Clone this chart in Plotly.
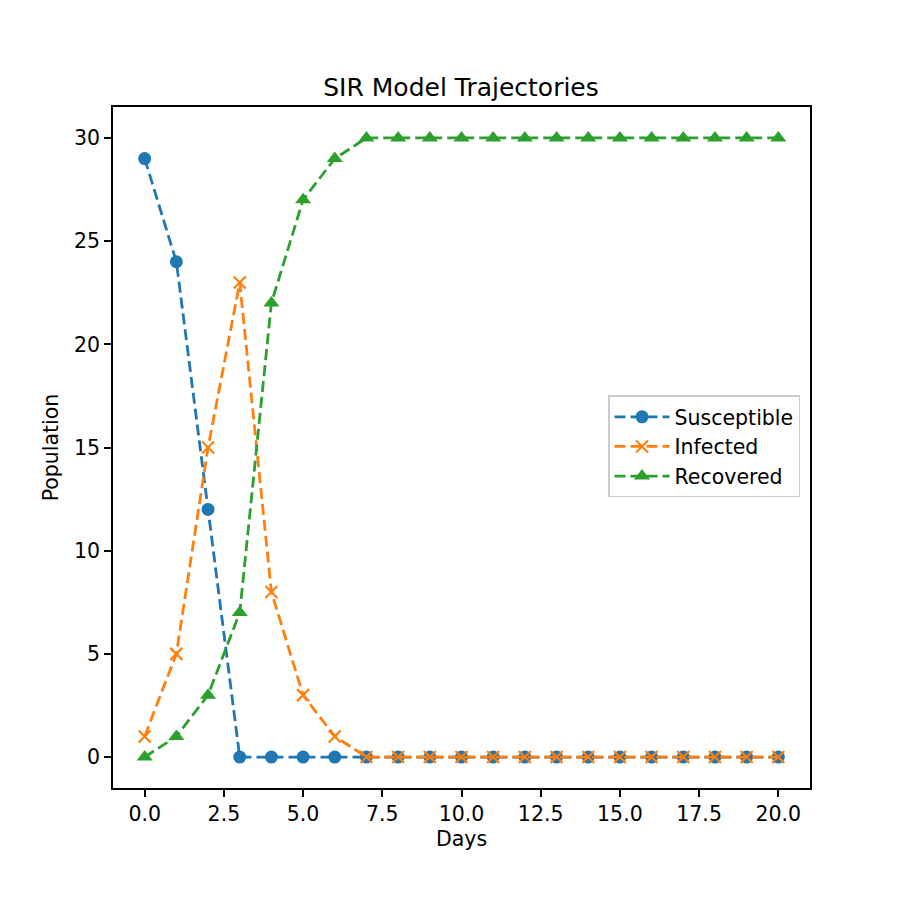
import plotly.graph_objects as go

days = list(range(21))
susceptible = [29, 24, 12, 0, 0, 0, 0, 0, 0, 0, 0, 0, 0, 0, 0, 0, 0, 0, 0, 0, 0]
infected = [1, 5, 15, 23, 8, 3, 1, 0, 0, 0, 0, 0, 0, 0, 0, 0, 0, 0, 0, 0, 0]
recovered = [0, 1, 3, 7, 22, 27, 29, 30, 30, 30, 30, 30, 30, 30, 30, 30, 30, 30, 30, 30, 30]

series = [
    ("Susceptible", susceptible, "#1f77b4", "circle", 13, 0),
    ("Infected", infected, "#ff7f0e", "x-thin", 12, 2.2),
    ("Recovered", recovered, "#2ca02c", "triangle-up", 14, 0),
]

fig = go.Figure()
for name, vals, color, sym, size, lw in series:
    fig.add_trace(go.Scatter(
        x=days, y=vals, name=name, mode="lines+markers",
        line=dict(color=color, width=2.8, dash="11px,5px"),
        marker=dict(symbol=sym, size=size, color=color,
                    line=dict(color=color, width=lw)),
    ))

axis_common = dict(
    showgrid=False, zeroline=False, showline=True, linecolor="black", linewidth=1.5,
    mirror=True, ticks="outside", ticklen=7, tickwidth=1.5, tickcolor="black",
    tickfont=dict(size=20.5, color="black"),
)

fig.update_layout(
    width=900, height=900,
    paper_bgcolor="white", plot_bgcolor="white",
    font=dict(family="DejaVu Sans", color="black", size=20.5),
    margin=dict(l=105, r=98, t=99, b=120),
    title=dict(text="SIR Model Trajectories", x=(461 - 8) / 900, xanchor="center",
               y=1 - 79 / 900, yanchor="middle", font=dict(size=25)),
    xaxis=dict(range=[-1, 21], tick0=0, dtick=2.5, tickformat=".1f",
               title=dict(text="Days", font=dict(size=20.5), standoff=6), **axis_common),
    yaxis=dict(range=[-1.5, 31.5], tick0=0, dtick=5,
               title=dict(text="Population", font=dict(size=20.5), standoff=10), **axis_common),
    legend=dict(x=0.9857, xanchor="right", y=0.5015, yanchor="middle",
                bordercolor="#cccccc", borderwidth=1.5, bgcolor="white",
                font=dict(size=20.5), tracegroupgap=0, itemwidth=55),
    showlegend=True,
)

fig.write_html("out.html")
